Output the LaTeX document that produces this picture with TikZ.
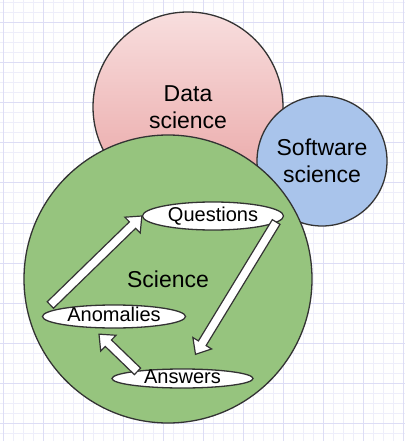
\documentclass[tikz,border=0pt]{standalone}
\usepackage{fontspec}
\setmainfont{Liberation Sans}
\usepackage{tikz}
\usetikzlibrary{calc, shapes.geometric}

\definecolor{gridminor}{HTML}{EEEEFA}
\definecolor{gridmajor}{HTML}{DDDDF5}
\definecolor{outline}{HTML}{333333}
\definecolor{pinktop}{HTML}{F8DEDE}
\definecolor{pinkbot}{HTML}{E9A3A3}
\definecolor{swblue}{HTML}{A9C4EB}
\definecolor{scgreen}{HTML}{96C47E}

\tikzset{
  bubble/.style={circle, draw=outline, line width=1.3bp, inner sep=0, align=center,
    font=\fontsize{23bp}{26.5bp}\selectfont},
  oval/.style={ellipse, draw=outline, fill=white, line width=1.3bp, inner sep=0,
    minimum width=141bp},
  every label/.style={font=\fontsize{20bp}{24bp}\selectfont, inner sep=0},
  blockarrow/.style={draw=outline, fill=white, line width=1.2bp, line join=miter}
}

% fat white arrow from #1 to #2
\newcommand\flowarrow[2]{%
  \coordinate (hb) at ($(#2)!13bp!(#1)$);
  \draw[blockarrow] ($(#1)!4.5bp!90:(#2)$) -- ($(hb)!4.5bp!90:(#2)$) -- ($(hb)!11bp!90:(#2)$)
    -- (#2) -- ($(hb)!11bp!-90:(#2)$) -- ($(hb)!4.5bp!-90:(#2)$) -- ($(#1)!4.5bp!-90:(#2)$) -- cycle;}

\begin{document}
\begin{tikzpicture}[x=1bp, y=-1bp]
  \useasboundingbox (0,0) rectangle (405,441);
  \fill[white] (0,0) rectangle (405,441);
  % grid paper
  \foreach \x in {3,13,...,403} \draw[gridminor, line width=1bp] (\x,0) -- (\x,441);
  \foreach \y in {3,13,...,433} \draw[gridminor, line width=1bp] (0,\y) -- (405,\y);
  \foreach \x in {3,43,...,403} \draw[gridmajor, line width=1bp] (\x,0) -- (\x,441);
  \foreach \y in {23,63,...,423} \draw[gridmajor, line width=1bp] (0,\y) -- (405,\y);

  % circles
  \node[bubble, top color=pinktop, bottom color=pinkbot, minimum size=190bp] (ds) at (188,107) {Data\\science};
  \node[bubble, fill=swblue, minimum size=130bp] (ss) at (322,161) {Software\\science};
  \node[bubble, fill=scgreen, minimum size=288bp] (sc) at (168,279) {Science};

  % cycle
  \node[oval, minimum height=28bp, label={center:Questions}] (qu) at (213,216) {};
  \node[oval, minimum width=143bp, minimum height=23bp, label={[yshift=2bp]center:Anomalies}] (an) at (114,316.5) {};
  \node[oval, minimum height=19bp, label={[yshift=2bp]center:Answers}] (ans) at (182.5,378.5) {};

  \coordinate (a1) at ([shift={(8.5,-11.5)}]an.west);
  \coordinate (q1) at ([shift={(-8,6)}]qu.east);
  \coordinate (s1) at ([shift={(13,-14)}]ans.north);
  \coordinate (s2) at ([shift={(-45,3)}]ans.north);
  \coordinate (a2) at ([shift={(-15,5.5)}]an.south);

  \flowarrow{a1}{qu.west}
  \flowarrow{q1}{s1}
  \flowarrow{s2}{a2}
\end{tikzpicture}
\end{document}
